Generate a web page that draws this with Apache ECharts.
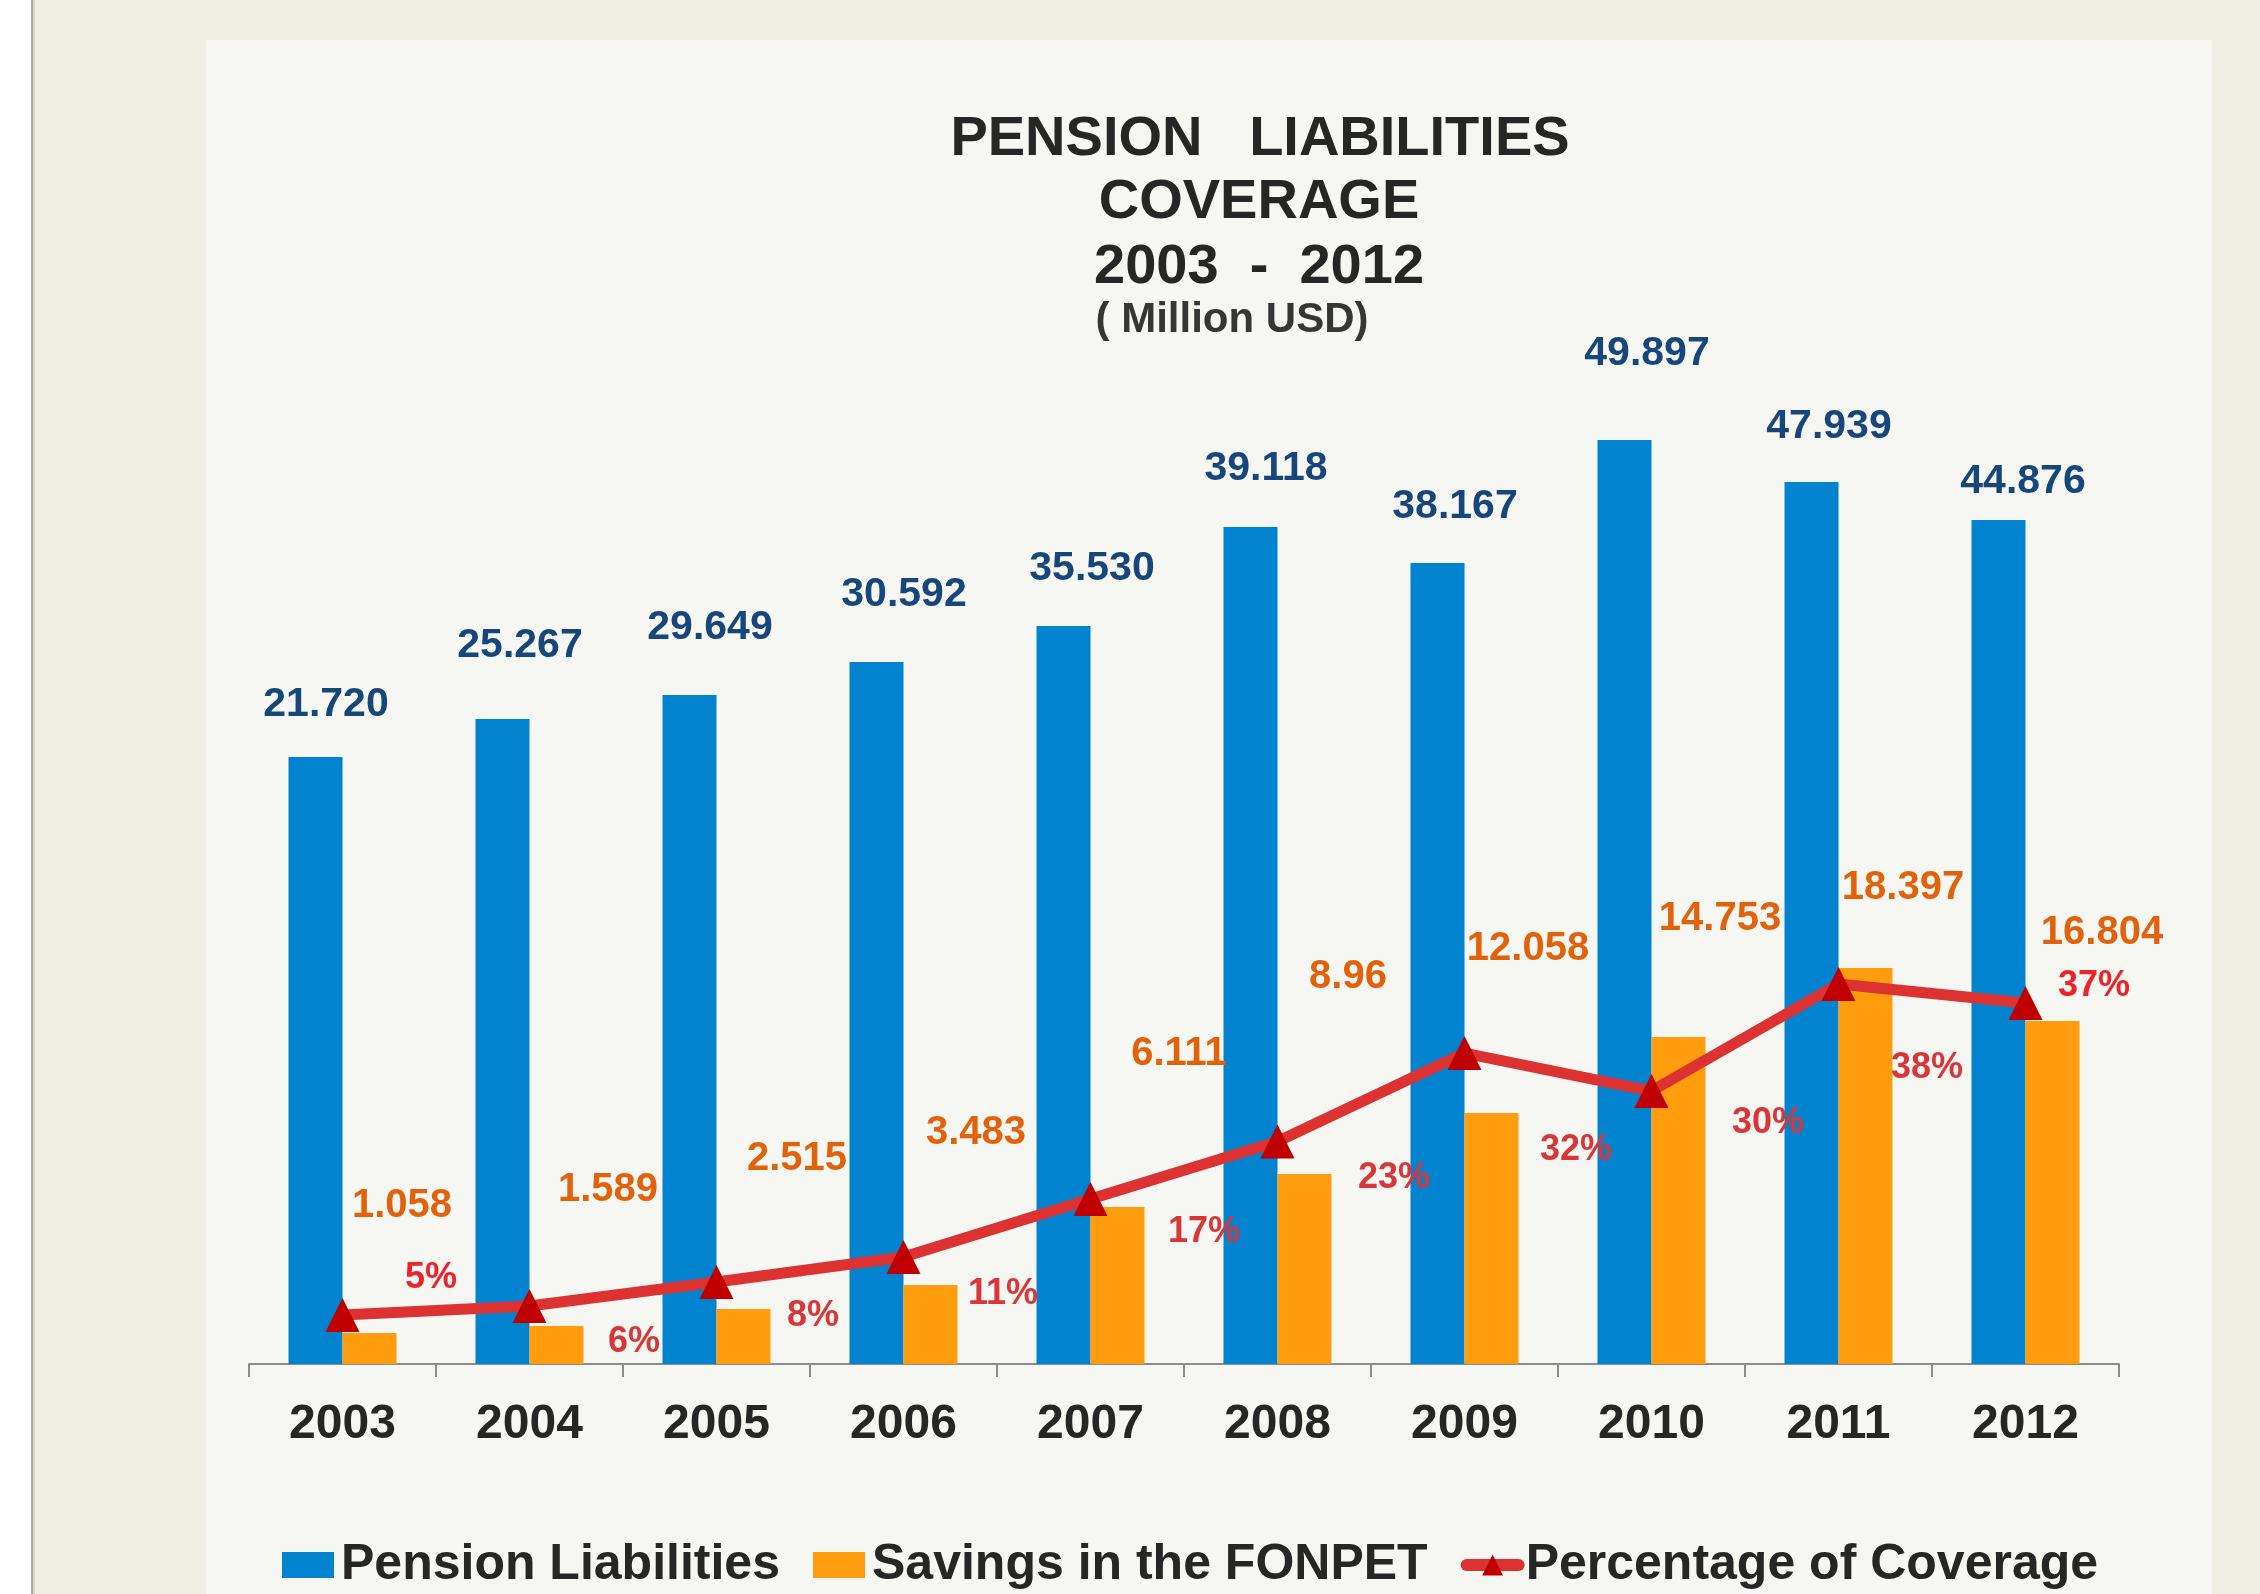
<!DOCTYPE html>
<html>
<head>
<meta charset="utf-8">
<script src="https://cdn.jsdelivr.net/npm/echarts@6/dist/echarts.min.js"></script>
<style>
html,body{margin:0;padding:0;background:#ffffff;}
#chart{width:2260px;height:1594px;}
</style>
</head>
<body>
<div id="chart"></div>
<script>
// ---------------- DATA ----------------
const years = ['2003','2004','2005','2006','2007','2008','2009','2010','2011','2012'];

// printed data labels
const liabilitiesLabels = ['21.720','25.267','29.649','30.592','35.530','39.118','38.167','49.897','47.939','44.876'];
const savingsLabels     = ['1.058','1.589','2.515','3.483','6.111','8.96','12.058','14.753','18.397','16.804'];
const coverageLabels    = ['5%','6%','8%','11%','17%','23%','32%','30%','38%','37%'];

// bar / line heights as drawn in the picture (million USD scale, % scale)
const liabilitiesDrawn = [28.23, 30.0, 31.12, 32.65, 34.33, 38.93, 37.26, 42.98, 41.02, 39.26];
const savingsDrawn     = [1.44, 1.77, 2.56, 3.67, 7.30, 8.84, 11.67, 15.21, 18.42, 15.95];
const coverageDrawn    = [5.01, 5.93, 8.39, 10.95, 16.88, 22.77, 31.82, 27.93, 38.88, 36.94];

const legendNames = ['Pension Liabilities', 'Savings in the FONPET', 'Percentage of Coverage'];
const titleLines = ['PENSION   LIABILITIES', 'COVERAGE', '2003  -  2012'];
const subtitleText = '( Million USD)';

// ---------------- STYLE (label placement as in the picture) ----------------
const blueLabelOffsets = [[10.5,-31.5],[17.5,-52.5],[20.5,-46.5],[27.5,-46.5],[28.5,-36.5],[15.5,-37.5],[17.5,-35.5],[22.5,-65.5],[17.5,-34.5],[24.5,-17.5]];
const orangeLabelOffsets = [[32.5,-107],[51.5,-115.5],[53.5,-130],[45.5,-132],[61.5,-133],[43.5,-177],[36.5,-144],[41.5,-98],[37.5,-60],[49.5,-68]];
const pctLabelOffsets = [[88.5,-37],[104.5,36],[96.5,34],[99.5,37],[113.5,33],[116.5,36.5],[111.5,97],[116.5,32],[88.5,84],[68.5,-17]];
const pctLabelColors = ['#EE2229','#D9363A','#D9363A','#D9363A','#D9363A','#D9363A','#D9363A','#D9363A','#D9363A','#EE2229'];

const FONT = '"Liberation Sans", Arial, Helvetica, sans-serif';
const BLUE = '#0283D0';
const ORANGE = '#FF9D0E';
const LINE_RED = '#DC3232';
const MARK_RED = '#C00000';

const chart = echarts.init(document.getElementById('chart'), null, {renderer: 'canvas'});

function titleText(text, x, y, size, color) {
  return {
    type: 'text', x: x, y: y, z: 5,
    style: {
      text: text,
      font: 'bold ' + size + 'px ' + FONT,
      fill: color,
      textAlign: 'center', textVerticalAlign: 'middle',
      align: 'center', verticalAlign: 'middle'
    }
  };
}

const option = {
  animation: false,
  backgroundColor: '#EEEEE3',
  graphic: [
    {type: 'rect', z: 0, shape: {x: 0, y: 0, width: 31, height: 1594}, style: {fill: '#FFFFFF'}},
    {type: 'rect', z: 0, shape: {x: 31, y: 0, width: 2, height: 1594}, style: {fill: '#AEAEA6'}},
    {type: 'rect', z: 0, shape: {x: 33, y: 0, width: 2, height: 1594}, style: {fill: '#D4D4CA'}},
    {type: 'rect', z: 0, shape: {x: 206, y: 40, width: 2006, height: 1554}, style: {fill: '#F6F7F2'}},
    titleText(titleLines[0], 1260, 140, 56, '#262626'),
    titleText(titleLines[1], 1259, 203, 56, '#262626'),
    titleText(titleLines[2], 1259, 268, 56, '#262626'),
    titleText(subtitleText, 1232, 320, 42, '#363636')
  ],
  legend: {
    left: 277,
    top: 1535,
    itemWidth: 52,
    itemHeight: 26,
    itemGap: 33,
    data: [
      {name: legendNames[0], icon: 'rect'},
      {name: legendNames[1], icon: 'rect'},
      {name: legendNames[2], lineStyle: {width: 12, cap: 'round', color: LINE_RED}}
    ],
    textStyle: {
      fontFamily: FONT, fontSize: 50, fontWeight: 'bold', color: '#262626',
      padding: [0, 0, 0, 2]
    }
  },
  grid: {left: 249, right: 141, top: 289, bottom: 230, containLabel: false, outerBoundsMode: 'none'},
  xAxis: {
    type: 'category',
    data: years,
    boundaryGap: true,
    axisLine: {show: true, lineStyle: {color: '#8C8C8C', width: 2}},
    axisTick: {show: true, interval: 0, length: 13, lineStyle: {color: '#8C8C8C', width: 2}},
    axisLabel: {
      interval: 0, margin: 37,
      fontFamily: FONT, fontSize: 48, fontWeight: 'bold', color: '#262626'
    },
    splitLine: {show: false}
  },
  yAxis: [
    {type: 'value', min: 0, max: 50, show: false, splitLine: {show: false}},
    {type: 'value', min: 0, max: 110, show: false, splitLine: {show: false}}
  ],
  series: [
    {
      name: legendNames[0],
      type: 'bar',
      barWidth: 54,
      barGap: '0%',
      itemStyle: {color: BLUE},
      data: liabilitiesDrawn.map((v, i) => ({value: v, label: {offset: blueLabelOffsets[i]}})),
      label: {
        show: true, position: 'top', distance: 0,
        formatter: p => liabilitiesLabels[p.dataIndex],
        fontFamily: FONT, fontSize: 41, lineHeight: 41, fontWeight: 'bold', color: '#17477A'
      },
      z: 2
    },
    {
      name: legendNames[1],
      type: 'bar',
      barWidth: 54,
      barGap: '0%',
      itemStyle: {color: ORANGE},
      data: savingsDrawn.map((v, i) => ({value: v, label: {offset: orangeLabelOffsets[i]}})),
      label: {
        show: true, position: 'top', distance: 0,
        formatter: p => savingsLabels[p.dataIndex],
        fontFamily: FONT, fontSize: 40, lineHeight: 40, fontWeight: 'bold', color: '#E2620C'
      },
      z: 2
    },
    {
      name: legendNames[2],
      type: 'line',
      yAxisIndex: 1,
      symbol: 'triangle',
      symbolSize: [34, 34],
      itemStyle: {color: MARK_RED},
      lineStyle: {color: LINE_RED, width: 11},
      data: coverageDrawn.map((v, i) => ({
        value: v,
        label: {offset: pctLabelOffsets[i], color: pctLabelColors[i]}
      })),
      label: {
        show: true, position: 'inside',
        formatter: p => coverageLabels[p.dataIndex],
        fontFamily: FONT, fontSize: 36, lineHeight: 36, fontWeight: 'bold', color: '#D9363A'
      },
      z: 3
    }
  ]
};

chart.setOption(option);
</script>
</body>
</html>
